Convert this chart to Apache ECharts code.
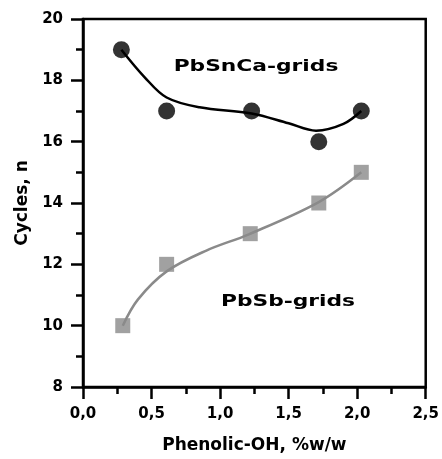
<!DOCTYPE html>
<html><head><meta charset="utf-8">
<script src="https://cdn.jsdelivr.net/npm/echarts@6/dist/echarts.min.js"></script>
<style>html,body{margin:0;padding:0;background:#fff}#c{width:442px;height:459px}</style>
</head><body><div id="c"></div>
<script>
// measured points
const snCaX = [0.28, 0.61, 1.23, 1.72, 2.03];
const snCaY = [19, 17, 17, 16, 17];
const sbX = [0.29, 0.61, 1.22, 1.72, 2.03];
const sbY = [10, 12, 13, 14, 15];
// fitted curves
const snCaCurveX = [0.28, 0.45, 0.61, 0.85, 1.23, 1.50, 1.70, 1.90, 2.03];
const snCaCurveY = [19.0, 18.1, 17.44, 17.12, 16.92, 16.6, 16.36, 16.58, 17.0];
const sbCurveX = [0.29, 0.40, 0.61, 0.90, 1.21, 1.72, 2.03];
const sbCurveY = [10.0, 10.85, 11.77, 12.45, 12.98, 14.03, 15.0];
const xTitle = 'Phenolic-OH, %w/w';
const yTitle = 'Cycles, n';
const labelSnCa = 'PbSnCa-grids';
const labelSb = 'PbSb-grids';

const zip = (a, b) => a.map((v, i) => [v, b[i]]);
const FONT = 'DejaVu Sans';
const chart = echarts.init(document.getElementById('c'), null, {renderer: 'canvas'});
const axisCommon = {
  axisLine: {show: true, lineStyle: {color: '#000', width: 2.5}},
  axisTick: {show: true, inside: false, length: 12, lineStyle: {color: '#000', width: 2.5}},
  minorTick: {show: true, splitNumber: 2, length: 7, lineStyle: {color: '#000', width: 2.5}},
  splitLine: {show: false},
  nameLocation: 'middle',
  nameTextStyle: {fontFamily: FONT, fontWeight: 'bold', fontSize: 17, color: '#000'}
};
chart.setOption({
  animation: false,
  backgroundColor: '#fff',
  grid: {left: 83, right: 15, top: 19, bottom: 70, show: true, borderColor: '#000', borderWidth: 2.5},
  xAxis: Object.assign({}, axisCommon, {
    type: 'value', min: 0, max: 2.5, interval: 0.5, name: xTitle, nameGap: 50,
    axisLabel: {margin: 20, fontFamily: FONT, fontWeight: 'bold', fontSize: 15, color: '#000',
      formatter: v => v.toFixed(1).replace('.', ',')}
  }),
  yAxis: Object.assign({}, axisCommon, {
    type: 'value', min: 8, max: 20, interval: 2, name: yTitle, nameGap: 52,
    axisLabel: {margin: 20, fontFamily: FONT, fontWeight: 'bold', fontSize: 15, color: '#000'}
  }),
  series: [
    {type: 'line', data: zip(snCaCurveX, snCaCurveY), smooth: 0.35, showSymbol: false,
      lineStyle: {color: '#000', width: 2.5}, z: 2, silent: true},
    {type: 'line', data: zip(sbCurveX, sbCurveY), smooth: 0.35, showSymbol: false,
      lineStyle: {color: '#8a8a8a', width: 2.5}, z: 2, silent: true},
    {type: 'scatter', data: zip(snCaX, snCaY), symbol: 'circle', symbolSize: 17,
      itemStyle: {color: '#000'}, z: 3},
    {type: 'scatter', data: zip(sbX, sbY), symbol: 'rect', symbolSize: 15,
      itemStyle: {color: '#8a8a8a'}, z: 3}
  ],
  graphic: [
    {type: 'text', x: 256, y: 67, scaleX: 1.36, z: 10,
      style: {text: labelSnCa, x: 0, y: 0, align: 'center', verticalAlign: 'middle',
        font: 'bold 16px "DejaVu Sans"', fill: '#000'}},
    {type: 'text', x: 288, y: 302, scaleX: 1.36, z: 10,
      style: {text: labelSb, x: 0, y: 0, align: 'center', verticalAlign: 'middle',
        font: 'bold 16px "DejaVu Sans"', fill: '#000'}}
  ]
});
</script></body></html>
